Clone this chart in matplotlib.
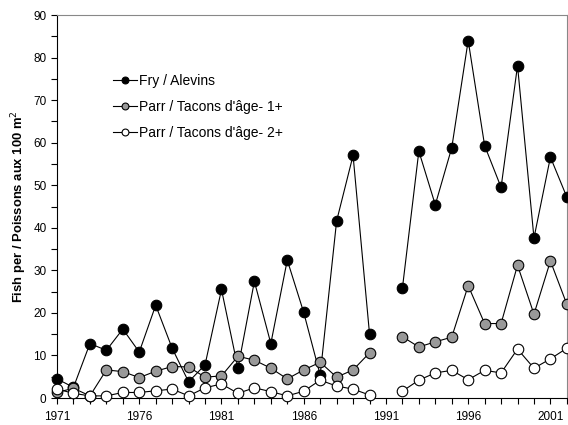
import numpy as np
import matplotlib
matplotlib.use("Agg")
import matplotlib.pyplot as plt
from matplotlib.ticker import MultipleLocator, FixedLocator

plt.rcParams['font.family'] = ['Liberation Sans', 'DejaVu Sans']

years = list(range(1971, 2003))
year_labels = [1971, 1976, 1981, 1986, 1991, 1996, 2001]
nan = np.nan

fry = [4.5, 2.5, 12.8, 11.2, 16.2, 10.8, 21.8, 11.7, 3.8, 7.8,
       25.5, 7.0, 27.4, 12.8, 32.4, 20.1, 5.4, 41.6, 57.0, 15.1,
       nan, 25.8, 58.0, 45.4, 58.8, 84.0, 59.3, 49.5, 78.1, 37.6,
       56.6, 47.2]
parr1 = [1.3, 2.3, 0.5, 6.6, 6.2, 4.8, 6.3, 7.4, 7.3, 4.9,
         5.2, 9.8, 8.9, 7.0, 4.5, 6.6, 8.4, 4.9, 6.6, 10.6,
         nan, 14.4, 12.0, 13.2, 14.3, 26.4, 17.5, 17.5, 31.2, 19.7,
         32.2, 22.0]
parr2 = [2.1, 1.1, 0.5, 0.5, 1.3, 1.3, 1.7, 2.1, 0.5, 2.4,
         3.3, 1.1, 2.4, 1.5, 0.5, 1.6, 4.2, 2.8, 2.1, 0.7,
         nan, 1.6, 4.2, 5.9, 6.5, 4.3, 6.5, 5.9, 11.5, 7.0,
         9.2, 11.7]

fig = plt.figure(figsize=(5.68, 4.25), dpi=100)
ax = fig.add_axes([0.1004, 0.0635, 0.8976, 0.9012])

style = dict(color="black", lw=0.8, markersize=7.6, markeredgecolor="black", markeredgewidth=0.8, clip_on=False)
ax.plot(years, fry, marker="o", markerfacecolor="black", label="Fry / Alevins", zorder=3, **style)
ax.plot(years, parr1, marker="o", markerfacecolor="#999999", label="Parr / Tacons d'âge- 1+", zorder=4, **style)
ax.plot(years, parr2, marker="o", markerfacecolor="white", label="Parr / Tacons d'âge- 2+", zorder=5, **style)

ax.set_xlim(1971, 2002)
ax.set_ylim(0, 90)
ax.xaxis.set_major_locator(FixedLocator(year_labels))
ax.xaxis.set_minor_locator(MultipleLocator(1))
ax.yaxis.set_major_locator(MultipleLocator(10))
ax.yaxis.set_minor_locator(MultipleLocator(5))
ax.tick_params(which="both", direction="out", labelsize=8.5, width=0.8, length=4)
ax.tick_params(axis="x", pad=5)

for side in ["top", "right"]:
    ax.spines[side].set_color("#888888")
for side in ["left", "bottom"]:
    ax.spines[side].set_color("black")

ax.set_ylabel("Fish per / Poissons aux 100 m$^2$", fontsize=9.4, fontweight="bold", labelpad=3)

ax.legend(loc="upper left", bbox_to_anchor=(0.085, 0.879), frameon=False, fontsize=10,
          handlelength=1.73, handletextpad=0.15, labelspacing=0.88, markerscale=0.65)

fig.savefig("out.png", dpi=100)
